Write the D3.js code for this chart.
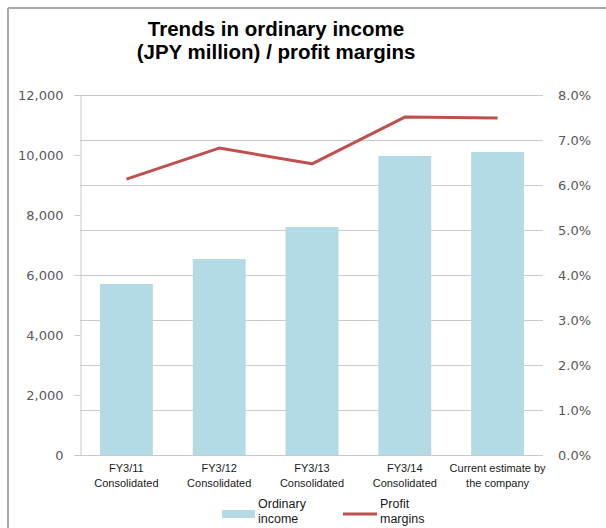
<!DOCTYPE html>
<html>
<head>
<meta charset="utf-8">
<script src="https://cdn.jsdelivr.net/npm/d3@7"></script>
<style>
  html, body { margin: 0; padding: 0; background: #fff; }
  svg { display: block; }
</style>
</head>
<body>
<svg id="chart" width="606" height="528"></svg>
<script>
// Category labels (two lines each)
const categories = [
  ["FY3/11", "Consolidated"],
  ["FY3/12", "Consolidated"],
  ["FY3/13", "Consolidated"],
  ["FY3/14", "Consolidated"],
  ["Current estimate by", "the company"]
];
// Ordinary income, JPY million
const ordinaryIncome = [5700, 6530, 7600, 9970, 10100];
// Profit margins, %
const profitMargins = [6.13, 6.82, 6.47, 7.51, 7.49];
// Axis ticks
const leftTicks = [0, 2000, 4000, 6000, 8000, 10000, 12000];
const rightTicks = [0, 1, 2, 3, 4, 5, 6, 7, 8];
const titleLines = ["Trends in ordinary income", "(JPY million) / profit margins"];
const legendLabels = [["Ordinary", "income"], ["Profit", "margins"]];

const svg = d3.select("#chart");
const plot = { left: 80, right: 544, top: 95, bottom: 455 };

const barColor = "#b3dae5";
const lineColor = "#c0504d";
const gridColor = "#c9c9c9";
const tickFont = "'DejaVu Sans', sans-serif";
const textFont = "'Liberation Sans', Arial, sans-serif";

// Frame
svg.append("line").attr("x1", 8).attr("y1", 8).attr("x2", 606).attr("y2", 8)
  .attr("stroke", "#a8a8a8").attr("stroke-width", 2);
svg.append("line").attr("x1", 8).attr("y1", 8).attr("x2", 8).attr("y2", 528)
  .attr("stroke", "#a8a8a8").attr("stroke-width", 2);

// Title, one text element per line
svg.append("g")
  .selectAll("text").data(titleLines).join("text")
  .attr("x", 276).attr("y", (d, i) => 36 + i * 23)
  .attr("text-anchor", "middle")
  .attr("font-family", textFont).attr("font-weight", "bold")
  .attr("font-size", 20.5).attr("fill", "#000")
  .text(d => d);

// Scales
const x = d3.scaleBand()
  .domain(categories.map((d, i) => i))
  .range([plot.left, plot.right])
  .paddingInner(0.43)
  .paddingOuter(0.215);

const yLeft = d3.scaleLinear().domain([0, 12000]).range([plot.bottom, plot.top]);
const yRight = d3.scaleLinear().domain([0, 8]).range([plot.bottom, plot.top]);

// Gridlines follow the right (percentage) axis
svg.append("g")
  .selectAll("line").data(rightTicks.filter(t => t > 0)).join("line")
  .attr("x1", plot.left).attr("x2", plot.right - 1)
  .attr("y1", d => Math.round(yRight(d)) + 0.5)
  .attr("y2", d => Math.round(yRight(d)) + 0.5)
  .attr("stroke", gridColor).attr("stroke-width", 1);

// Bars
svg.append("g")
  .selectAll("rect").data(ordinaryIncome).join("rect")
  .attr("x", (d, i) => x(i))
  .attr("width", x.bandwidth())
  .attr("y", d => yLeft(d))
  .attr("height", d => yLeft(0) - yLeft(d))
  .attr("fill", barColor);

// Baseline
svg.append("line")
  .attr("x1", plot.left).attr("x2", plot.right - 1)
  .attr("y1", plot.bottom + 0.5).attr("y2", plot.bottom + 0.5)
  .attr("stroke", gridColor).attr("stroke-width", 1);

// Left axis
const leftAxis = d3.axisLeft(yLeft)
  .tickValues(leftTicks)
  .tickSize(6)
  .tickPadding(11)
  .tickFormat(d3.format(","));
const gl = svg.append("g")
  .attr("transform", `translate(${plot.left + 0.5},0)`)
  .call(leftAxis);
gl.select(".domain").attr("stroke", gridColor);
gl.selectAll(".tick line").attr("stroke", gridColor);
gl.selectAll(".tick text")
  .attr("font-family", tickFont).attr("font-size", 13).attr("fill", "#595959");

// Right axis labels
const rightAxis = d3.axisRight(yRight)
  .tickValues(rightTicks)
  .tickSize(0)
  .tickPadding(14)
  .tickFormat(d => d3.format(".1f")(d) + "%");
const gr = svg.append("g")
  .attr("transform", `translate(${plot.right},0)`)
  .call(rightAxis);
gr.select(".domain").remove();
gr.selectAll(".tick text")
  .attr("font-family", tickFont).attr("font-size", 13).attr("fill", "#595959");

// Profit margin line
const line = d3.line()
  .x((d, i) => x(i) + x.bandwidth() / 2)
  .y(d => yRight(d));
svg.append("path")
  .datum(profitMargins)
  .attr("d", line)
  .attr("fill", "none")
  .attr("stroke", lineColor)
  .attr("stroke-width", 3)
  .attr("stroke-linejoin", "round");

// Category labels
const catG = svg.append("g")
  .selectAll("text").data(categories).join("text")
  .attr("text-anchor", "middle")
  .attr("font-family", textFont).attr("font-size", 11).attr("fill", "#1a1a1a");
catG.selectAll("tspan").data((d, i) => d.map(s => ({ s, i }))).join("tspan")
  .attr("x", d => x(d.i) + x.bandwidth() / 2)
  .attr("y", (d, j) => 472 + j * 15)
  .text(d => d.s);

// Legend
const legend = svg.append("g");
legend.append("rect")
  .attr("x", 222).attr("y", 510).attr("width", 33).attr("height", 8)
  .attr("fill", barColor);
legend.append("line")
  .attr("x1", 343).attr("x2", 377).attr("y1", 514).attr("y2", 514)
  .attr("stroke", lineColor).attr("stroke-width", 3);
const legendX = [258, 380];
legendLabels.forEach((lines, k) => {
  lines.forEach((s, j) => {
    legend.append("text")
      .attr("x", legendX[k]).attr("y", 508 + j * 15)
      .attr("font-family", textFont).attr("font-size", 12.5).attr("fill", "#1a1a1a")
      .text(s);
  });
});
</script>
</body>
</html>
